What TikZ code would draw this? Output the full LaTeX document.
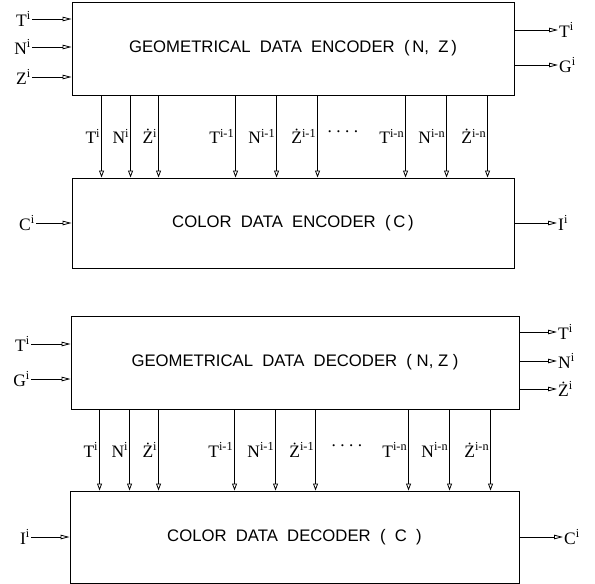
\documentclass[tikz,border=0pt]{standalone}
\usepackage{fontspec}
\setmainfont{Liberation Serif}
\newfontfamily\boxfont{Liberation Sans}
\usetikzlibrary{arrows.meta}
\tikzset{
  blk/.style={draw, line width=0.9pt, inner sep=0pt, font=\boxfont\fontsize{16.7}{19}\selectfont},
  arr/.style={line width=0.8pt, -{Triangle[open, length=9pt, width=4.5pt, line width=0.8pt]}},
  varr/.style={line width=0.8pt, -{Triangle[open, length=7pt, width=5pt, line width=0.8pt]}},
  lab/.style={font=\fontsize{17.5}{20}\selectfont, inner sep=1pt},
}
\newcommand{\sups}[2]{#1\textsuperscript{#2}}
\begin{document}
\begin{tikzpicture}[x=1pt,y=-1pt]
\useasboundingbox (0,0) rectangle (595,584);
% boxes
\node[blk, minimum width=442pt, minimum height=93pt] (b1) at (293,48.5) {GEOMETRICAL\ \ DATA\ \ ENCODER\ \ (\,N,\ \ Z\,)};
\node[blk, minimum width=442pt, minimum height=90pt] (b2) at (293,223) {COLOR\ \ DATA\ \ ENCODER\ \ (\,C\,)};
\node[blk, minimum width=448pt, minimum height=93pt] (b3) at (295,362.5) {GEOMETRICAL\ \ DATA\ \ DECODER\ \ (\ N,\ Z\ )};
\node[blk, minimum width=449pt, minimum height=92pt] (b4) at (294.5,537) {COLOR\ \ DATA\ \ DECODER\ \ (\ \ C\ \ )};

% encoder inputs
\node[lab, anchor=east] (iT1) at (32,19) {\sups{T}{i}};
\node[lab, anchor=east] (iN1) at (32,47) {\sups{N}{i}};
\node[lab, anchor=east] (iZ1) at (32,77) {\sups{Z}{i}};
\foreach \n in {iT1,iN1,iZ1} \draw[arr] (\n.east) -- (\n.east -| b1.west);
% encoder outputs
\node[lab, anchor=west] (oT1) at (558,30) {\sups{T}{i}};
\node[lab, anchor=west] (oG1) at (558,65) {\sups{G}{i}};
\foreach \n in {oT1,oG1} \draw[arr] (\n.west -| b1.east) -- (\n.west);

% color encoder
\node[lab, anchor=east] (iC2) at (36,223) {\sups{C}{i}};
\draw[arr] (iC2.east) -- (iC2.east -| b2.west);
\node[lab, anchor=west] (oI2) at (557,223) {\sups{I}{i}};
\draw[arr] (oI2.west -| b2.east) -- (oI2.west);

% encoder vertical arrows
\foreach \dx/\t in {30/{\sups{T}{i}}, 59/{\sups{N}{i}}, 87/{\sups{Ż}{i}},
                   164/{\sups{T}{i-1}}, 205/{\sups{N}{i-1}}, 246/{\sups{Ż}{i-1}},
                   334/{\sups{T}{i-n}}, 375/{\sups{N}{i-n}}, 416/{\sups{Ż}{i-n}}} {
  \path ([xshift=\dx pt]b1.south west) coordinate (ta);
  \draw[varr] (ta) -- node[lab, left] {\t} (ta |- b2.north);
}
\node[lab] (dots1) at (343,134) {·\,·\,·\,·};

% decoder inputs
\node[lab, anchor=east] (iT3) at (31,344) {\sups{T}{i}};
\node[lab, anchor=east] (iG3) at (31,379) {\sups{G}{i}};
\foreach \n in {iT3,iG3} \draw[arr] (\n.east) -- (\n.east -| b3.west);
% decoder outputs
\node[lab, anchor=west] (oT3) at (557,332) {\sups{T}{i}};
\node[lab, anchor=west] (oN3) at (557,361) {\sups{N}{i}};
\node[lab, anchor=west] (oZ3) at (557,389) {\sups{Ż}{i}};
\foreach \n in {oT3,oN3,oZ3} \draw[arr] (\n.west -| b3.east) -- (\n.west);

% color decoder
\node[lab, anchor=east] (iI4) at (31,537) {\sups{I}{i}};
\draw[arr] (iI4.east) -- (iI4.east -| b4.west);
\node[lab, anchor=west] (oC4) at (563,537) {\sups{C}{i}};
\draw[arr] (oC4.west -| b4.east) -- (oC4.west);

% decoder vertical arrows
\foreach \dx/\t in {29/{\sups{T}{i}}, 59/{\sups{N}{i}}, 88/{\sups{Ż}{i}},
                   164/{\sups{T}{i-1}}, 205/{\sups{N}{i-1}}, 245/{\sups{Ż}{i-1}},
                   338/{\sups{T}{i-n}}, 379/{\sups{N}{i-n}}, 420/{\sups{Ż}{i-n}}} {
  \path ([xshift=\dx pt]b3.south west) coordinate (tb);
  \draw[varr] (tb) -- node[lab, left] {\t} (tb |- b4.north);
}
\node[lab] (dots3) at (347,448) {·\,·\,·\,·};
\end{tikzpicture}
\end{document}
